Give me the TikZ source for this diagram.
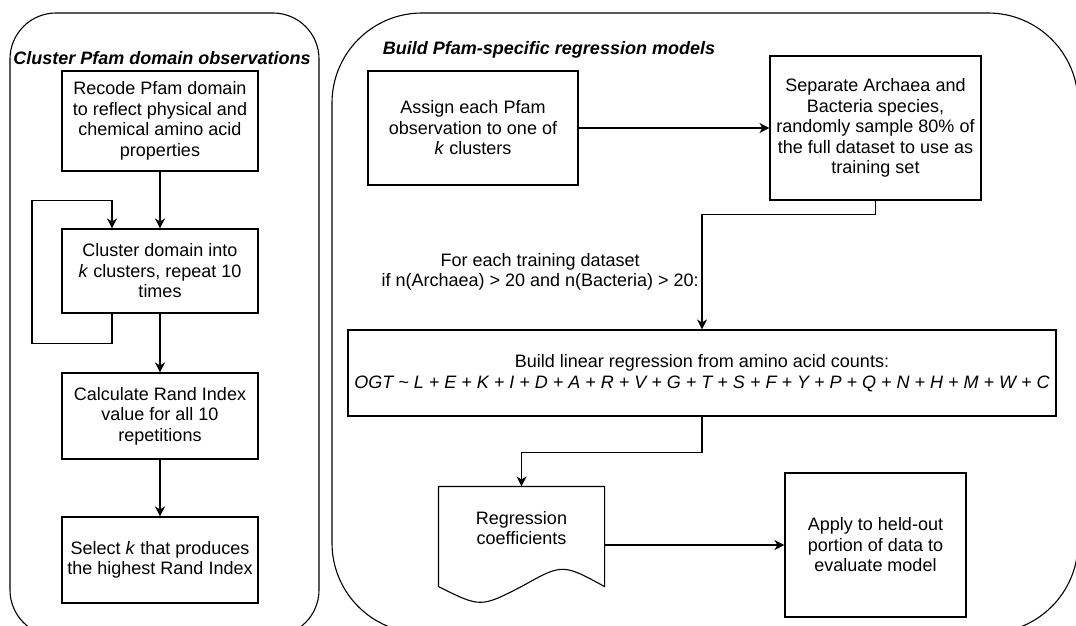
\documentclass[tikz,border=0pt]{standalone}
\usepackage{fontspec}
\setmainfont{Liberation Sans}
\usepackage{tikz}
\newcommand{\BoxFont}{\fontsize{18}{20.5}\selectfont}
\usetikzlibrary{positioning, arrows.meta, calc}

\tikzset{
    box/.style={draw, line width=1.1pt, align=center, inner sep=0pt, font=\BoxFont},
    plain/.style={align=center, inner sep=0pt, font=\BoxFont},
    paneltitle/.style={inner sep=0pt, font=\BoxFont\bfseries\itshape},
    flow/.style={line width=1.1pt, -{Stealth[length=10pt,width=10pt,inset=3pt]}},
    panel/.style={line width=1.1pt}
}

\begin{document}
\begin{tikzpicture}[x=1pt, y=-1pt]
        \useasboundingbox (0,0) rectangle (1076,626);
        \clip (0,0) rectangle (1076,626);

        % draw the two panels
        \draw[panel, rounded corners=46pt] (10,13) rectangle (319,636);
        \draw[panel, rounded corners=90pt] (332,13) rectangle (1078,633);

        \node[paneltitle] (lefttitle) at (162,58) {Cluster Pfam domain observations};
        \node[paneltitle] (righttitle) at (549,50) {Build Pfam-specific regression models};

        % left panel
        \node[box, minimum width=196pt, minimum height=100pt] (recode) at (160,121)
            {Recode Pfam domain\\to reflect physical and\\chemical amino acid\\properties};
        \node[box, minimum width=196pt, minimum height=84pt] (clusterk) at (160,271)
            {Cluster domain into\\\textit{k} clusters, repeat 10\\times};
        \node[box, minimum width=196pt, minimum height=86pt] (randidx) at (160,416)
            {Calculate Rand Index\\value for all 10\\repetitions};
        \node[box, minimum width=196pt, minimum height=86pt] (selectk) at (160,560)
            {Select \textit{k} that produces\\the highest Rand Index};

        \draw[flow] (recode) -- (clusterk);
        \draw[flow] (clusterk) -- (randidx);
        \draw[flow] (randidx) -- (selectk);
        % repeat loop
        \draw[flow] ([xshift=-48pt]clusterk.south) |- ++(-80,30)
            |- ([xshift=-48pt,yshift=28pt]clusterk.north) -- ([xshift=-48pt]clusterk.north);

        % right panel
        \node[box, minimum width=210pt, minimum height=114pt] (assign) at (473,128)
            {Assign each Pfam\\observation to one of\\\textit{k} clusters};
        \node[box, minimum width=211pt, minimum height=144pt] (separate) at (875.5,128)
            {Separate Archaea and\\Bacteria species,\\randomly sample 80\% of\\the full dataset to use as\\training set};
        \node[box, minimum width=708pt, minimum height=86pt] (buildlm) at (702,373)
            {Build linear regression from amino acid counts:\\\textit{OGT \textasciitilde{} L + E + K + I + D + A + R + V + G + T + S + F + Y + P + Q + N + H + M + W + C}};
        \node[plain, anchor=east] (cond) at (699,272)
            {For each training dataset\\if n(Archaea) > 20 and n(Bacteria) > 20:};

        % document shape
        \node[box, draw=none, minimum width=165pt, minimum height=99pt] (regcoef) at (521.5,536.5) {};
        \draw[panel] (regcoef.south west) -- (regcoef.north west) -- (regcoef.north east) -- (regcoef.south east)
            .. controls ($(regcoef.south)+(41,-23)$) .. (regcoef.south)
            .. controls ($(regcoef.south)+(-41,21)$) .. (regcoef.south west);
        \node[plain] (regcoeftext) at ($(regcoef)+(0,-8.5)$) {Regression\\coefficients};

        \node[box, minimum width=181pt, minimum height=144pt] (apply) at (875.5,545)
            {Apply to held-out\\portion of data to\\evaluate model};

        \draw[flow] (assign) -- (separate);
        \draw[flow] (separate.south) -- ++(0,14) -| (buildlm.north);
        \draw[flow] (buildlm.south) -- ++(0,36) -| (regcoef.north);
        \draw[flow] (regcoef.east |- apply.west) -- (apply.west);
\end{tikzpicture}
\end{document}
